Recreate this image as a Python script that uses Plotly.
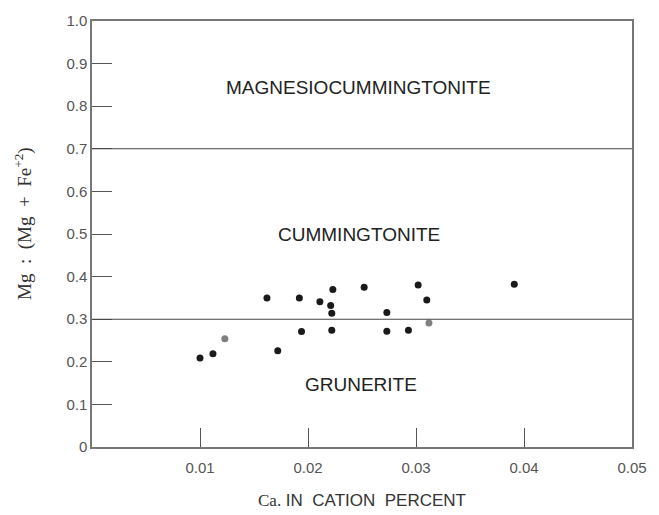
import plotly.graph_objects as go

# Data
ca_black = [0.0100, 0.0112, 0.0162, 0.0172, 0.0192, 0.0194, 0.0211, 0.0223, 0.0221,
            0.0222, 0.0222, 0.0252, 0.0273, 0.0273, 0.0293, 0.0302, 0.0310, 0.0391]
mg_black = [0.209, 0.219, 0.350, 0.226, 0.350, 0.271, 0.341, 0.370, 0.332,
            0.314, 0.274, 0.375, 0.316, 0.272, 0.274, 0.380, 0.345, 0.382]
ca_gray = [0.0123, 0.0312]
mg_gray = [0.254, 0.291]

boundaries = [0.3, 0.7]
region_names = ["MAGNESIOCUMMINGTONITE", "CUMMINGTONITE", "GRUNERITE"]
region_x = [0.0247, 0.0247, 0.0249]
region_y = [0.844, 0.50, 0.1465]

x_tickvals = [0.01, 0.02, 0.03, 0.04, 0.05]
x_ticktext = ["0.01", "0.02", "0.03", "0.04", "0.05"]
y_tickvals = [0, 0.1, 0.2, 0.3, 0.4, 0.5, 0.6, 0.7, 0.8, 0.9, 1.0]
y_ticktext = ["0", "0.1", "0.2", "0.3", "0.4", "0.5", "0.6", "0.7", "0.8", "0.9", "1.0"]

fig = go.Figure()
fig.add_trace(go.Scatter(x=ca_black, y=mg_black, mode="markers",
                         marker=dict(size=7, color="#1a1a1a"), showlegend=False))
fig.add_trace(go.Scatter(x=ca_gray, y=mg_gray, mode="markers",
                         marker=dict(size=7, color="#808080"), showlegend=False))

for b in boundaries:
    fig.add_shape(type="line", xref="paper", x0=0, x1=1, yref="y", y0=b, y1=b,
                  line=dict(color="#444444", width=1.1))

for name, xv, yv in zip(region_names, region_x, region_y):
    fig.add_annotation(x=xv, y=yv, text=name, showarrow=False,
                       font=dict(family="Liberation Sans, Arial", size=19, color="#222222"))

fig.add_annotation(xref="paper", yref="paper", x=0.5, y=-0.125, yanchor="middle",
                   text='<span style="font-family:Liberation Serif">Ca.</span>'
                        '\u00a0IN\u00a0\u00a0CATION\u00a0\u00a0PERCENT',
                   showarrow=False,
                   font=dict(family="Liberation Sans, Arial", size=17, color="#333333"))

fig.add_annotation(xref="paper", yref="paper", x=-0.128, y=0.5256, xanchor="center",
                   yanchor="middle", textangle=-90,
                   text="Mg\u00a0\u00a0:\u00a0\u00a0(Mg\u00a0\u00a0+\u00a0\u00a0Fe<sup>+2</sup>)",
                   showarrow=False,
                   font=dict(family="Liberation Serif, Times New Roman", size=19, color="#333333"))

axis_common = dict(showline=True, mirror=True, linecolor="#777777", linewidth=1.5,
                   showgrid=False, zeroline=False, ticks="inside", tickcolor="#555555",
                   tickwidth=1.2,
                   tickfont=dict(family="Liberation Sans, Arial", size=15, color="#555555"))

fig.update_xaxes(range=[0, 0.05], tickvals=x_tickvals, ticktext=x_ticktext,
                 ticklen=19, ticklabelstandoff=6, **axis_common)
fig.update_yaxes(range=[0, 1.0], tickvals=y_tickvals, ticktext=y_ticktext,
                 ticklen=20, **axis_common)

fig.update_layout(width=659, height=515, margin=dict(l=92, r=23, t=17, b=68),
                  plot_bgcolor="white", paper_bgcolor="white")

fig.write_html("out.html")
